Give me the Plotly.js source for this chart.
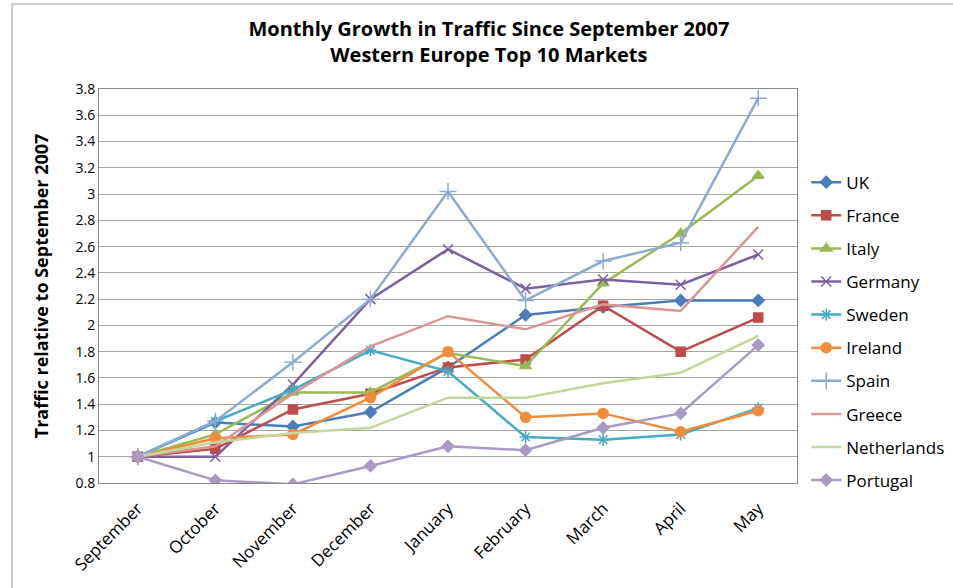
<!DOCTYPE html>
<html><head><meta charset="utf-8">
<script src="https://cdn.plot.ly/plotly-3.0.1.min.js"></script>
<style>html,body{margin:0;padding:0;background:#fff}#chart{width:953px;height:588px}</style>
</head><body><div id="chart"></div>
<script>
const months = ["September","October","November","December","January","February","March","April","May"];
const uk          = [1.0, 1.26, 1.23, 1.34, 1.68, 2.08, 2.14, 2.19, 2.19];
const france      = [1.0, 1.06, 1.36, 1.48, 1.68, 1.74, 2.15, 1.80, 2.06];
const italy       = [1.0, 1.17, 1.49, 1.49, 1.79, 1.69, 2.32, 2.70, 3.14];
const germany     = [1.0, 1.0, 1.55, 2.20, 2.58, 2.28, 2.35, 2.31, 2.54];
const sweden      = [1.0, 1.27, 1.51, 1.81, 1.65, 1.15, 1.13, 1.17, 1.37];
const ireland     = [1.0, 1.14, 1.17, 1.45, 1.80, 1.30, 1.33, 1.19, 1.35];
const spain       = [1.0, 1.27, 1.72, 2.20, 3.02, 2.19, 2.49, 2.63, 3.73];
const greece      = [1.0, 1.08, 1.48, 1.84, 2.07, 1.97, 2.16, 2.11, 2.75];
const netherlands = [1.0, 1.11, 1.18, 1.22, 1.45, 1.45, 1.56, 1.64, 1.92];
const portugal    = [1.0, 0.82, 0.79, 0.93, 1.08, 1.05, 1.22, 1.33, 1.85];

const series = [
  {name:"UK", y:uk, color:"#4A7EBB", symbol:"diamond", size:9},
  {name:"France", y:france, color:"#BE4B48", symbol:"square", size:9},
  {name:"Italy", y:italy, color:"#98B954", symbol:"triangle-up", size:10},
  {name:"Germany", y:germany, color:"#7D60A0", symbol:"x-thin-open", size:10},
  {name:"Sweden", y:sweden, color:"#46AAC5", symbol:"asterisk-open", size:10},
  {name:"Ireland", y:ireland, color:"#F08C3C", symbol:"circle", size:10},
  {name:"Spain", y:spain, color:"#8EAAD2", symbol:"cross-thin-open", size:12},
  {name:"Greece", y:greece, color:"#D99694", symbol:null},
  {name:"Netherlands", y:netherlands, color:"#C3D69B", symbol:null},
  {name:"Portugal", y:portugal, color:"#A999C4", symbol:"diamond", size:9}
];

const traces = series.map((s, i) => {
  const t = {x:months, y:s.y, name:s.name, type:"scatter", legendgroup:"g"+i,
    mode: s.symbol ? "lines+markers" : "lines",
    line:{color:s.color, width:2.5}, cliponaxis:true};
  if (s.symbol) t.marker = {symbol:s.symbol, size:s.size, color:s.color, line:{color:s.color, width:1.5}};
  return t;
});

const layout = {
  width:953, height:588,
  margin:{l:99, r:156, t:89, b:105},
  paper_bgcolor:"#fff", plot_bgcolor:"#fff",
  font:{family:"Open Sans, Noto Sans, sans-serif", color:"#000"},
  title:{text:"<b>Monthly Growth in Traffic Since September 2007<br>Western Europe Top 10 Markets</b>",
    x:0.513, xanchor:"center", y:0.939, yanchor:"top", font:{size:20, color:"#000"}},
  xaxis:{type:"category", tickangle:-45, tickfont:{size:17}, showgrid:false, ticklabelstandoff:8,
    showline:true, linecolor:"#888", mirror:true, ticks:"", range:[-0.5,8.5], automargin:false},
  yaxis:{range:[0.8,3.8], dtick:0.2, tick0:0.8, tickfont:{size:14}, showgrid:true, gridcolor:"#a6a6a6",
    gridwidth:1, showline:true, linecolor:"#888", mirror:true, ticks:"", zeroline:false,
    title:{text:"<b>Traffic relative to September 2007</b>", font:{size:18}, standoff:22}, automargin:false},
  legend:{xref:"container", x:0.846, xanchor:"left", yref:"paper", y:0.808, yanchor:"top", font:{size:17}, tracegroupgap:8,
    itemwidth:30, bgcolor:"rgba(0,0,0,0)"},
  shapes:[{type:"rect", xref:"paper", yref:"paper", x0:-0.1246, x1:1.233, y0:-0.297, y1:1.2157,
    line:{color:"#bfbfbf", width:1.5}}],
  showlegend:true
};
Plotly.newPlot("chart", traces, layout, {displayModeBar:false, staticPlot:true});
</script></body></html>
